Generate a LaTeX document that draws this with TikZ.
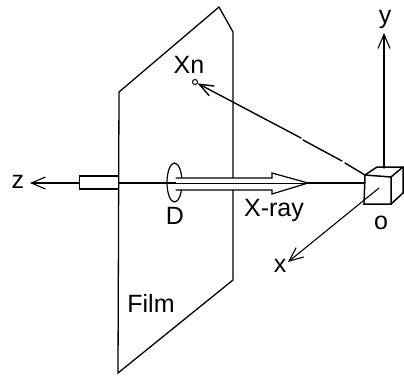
\documentclass[tikz,border=0pt]{standalone}
\usepackage{fontspec}
\setmainfont{Liberation Sans}
\usetikzlibrary{arrows.meta,positioning,shapes.geometric}

\begin{document}
\begin{tikzpicture}[
    x=1pt,y=-1pt,
    line cap=round,
    lbl/.style={inner sep=0pt,font=\fontsize{25}{27}\selectfont},
    axis/.style={-{Straight Barb[length=14pt,width=12pt]},line width=1.1pt},
    ray/.style={line width=1.2pt},
    edge/.style={line width=1.3pt},
    thin ray/.style={line width=0.8pt}
]
\useasboundingbox (0,0) rectangle (404,376);

% film plane
\coordinate (fa) at (119,92);
\coordinate (fb) at (219,7);
\coordinate (fc) at (233,32);
\coordinate (fd) at (233,280);
\coordinate (fe) at (118,373);
\draw[edge] (fa) -- (fb) -- (fc) -- (fd) -- (fe) -- cycle;

% cube at the origin
\coordinate (ca) at (365,175);
\coordinate (cb) at (391,177);
\coordinate (cc) at (391,204);
\coordinate (cd) at (364,204);
\coordinate (ce) at (377,167);
\coordinate (cf) at (403,167);
\coordinate (cg) at (403,193);
\draw[edge,line width=1.5pt] (ca) -- (cb) -- (cc) -- (cd) -- cycle;
\draw[edge,line width=1.5pt] (ca) -- (ce) -- (cf) -- (cb);
\draw[edge,line width=1.5pt] (cf) -- (cg) -- (cc);

% labels
\node[lbl] (z) at (18,182) {z};
\node[lbl] (y) at (385,19) {y};
\node[lbl] (x) at (280,266) {x};
\node[lbl] (o) at (381,223) {o};
\node[lbl] (d) at (175,216) {D};
\node[lbl] (xray) at (274,210) {X-ray};
\node[lbl] (film) at (151,303) {Film};
\node[lbl] (xn) at (189,65) {Xn};

% axes
\coordinate (yfoot) at (384,168);
\coordinate (yhead) at (384,33);
\coordinate (xfoot) at (379,188);
\coordinate (xhead) at (288,262);
\coordinate (zfoot) at (365,183);
\coordinate (zhead) at (30,183);
\draw[axis] (yfoot) -- (yhead);
\draw[axis] (xfoot) -- (xhead);
\draw[axis] (zfoot) -- (zhead);

% stop and tube
\node[draw,line width=1.2pt,ellipse,minimum width=15pt,minimum height=39pt,inner sep=0pt] (stop) at (174.5,182.5) {};
\node[draw,line width=1.1pt,fill=white,minimum width=39pt,minimum height=13pt,inner sep=0pt,anchor=east] (tube) at (119,182.5) {};

% incident beam
\coordinate (ba) at (176,178);
\coordinate (bb) at (176,190);
\coordinate (tipa) at (272,178);
\coordinate (tipb) at (272,190);
\coordinate (tip) at (308,183);
\fill[white] (ba) -- (tipa) -- (272,173) -- (tip) -- (272,194) -- (tipb) -- (bb) -- cycle;
\draw[ray] (ba) -- (tipa) -- (272,173) -- (tip) -- (272,194) -- (tipb) -- (bb);
\draw[thin ray] (176,183) -- (tip);

% diffracted ray
\node[draw,circle,line width=1pt,minimum size=5pt,inner sep=0pt] (spot) at (195,82) {};
\coordinate (ra) at (365,175);
\coordinate (rb) at (345,163);
\coordinate (rc) at (342,161);
\coordinate (rd) at (303,140);
\coordinate (re) at (301,138);
\draw[line width=1.4pt] (ra) -- (rb);
\draw[line width=1.4pt] (rc) -- (rd);
\draw[line width=1.4pt,-{Straight Barb[length=14pt,width=11pt]}] (re) -- (spot);
\end{tikzpicture}
\end{document}
